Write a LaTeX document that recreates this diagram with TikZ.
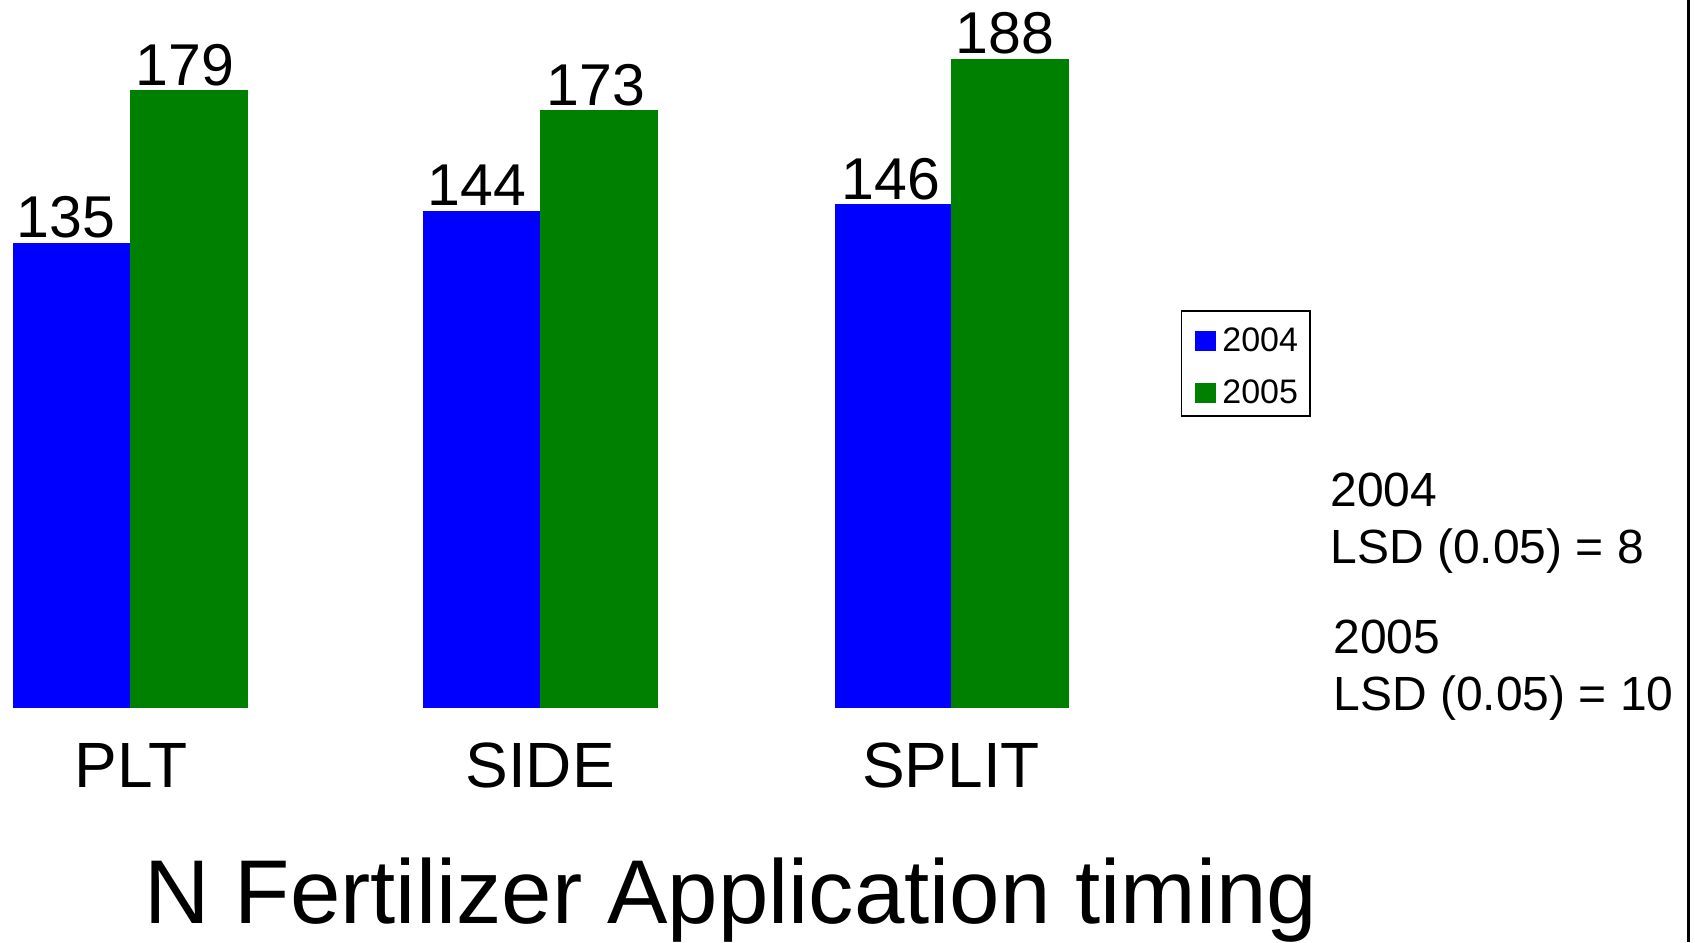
\documentclass[tikz,border=0pt]{standalone}
\usepackage{fontspec}
\setmainfont{Liberation Sans}
\definecolor{barblue}{RGB}{0,0,255}
\definecolor{bargreen}{RGB}{0,128,0}
\begin{document}
\begin{tikzpicture}[x=0.5pt,y=-0.5pt,
  valuelbl/.style={anchor=base,inner sep=0pt,font=\fontsize{29.5pt}{31pt}\selectfont},
  catlbl/.style={anchor=base,inner sep=0pt,font=\fontsize{32pt}{34pt}\selectfont},
  leglbl/.style={anchor=base west,inner sep=0pt,font=\fontsize{17pt}{19pt}\selectfont},
  lsdlbl/.style={anchor=base west,inner sep=0pt,font=\fontsize{24pt}{26pt}\selectfont},
  bluebar/.style={fill=barblue,draw=none},
  greenbar/.style={fill=bargreen,draw=none}]
\useasboundingbox (0,0) rectangle (1695,942);
\fill[white] (0,0) rectangle (1695,942);
% PLT
\fill[bluebar] (13,243) rectangle (130,708);
\fill[greenbar] (130,90) rectangle (248,708);
\node[valuelbl] (v1) at (66,237) {135};
\node[valuelbl] (v2) at (185,85) {179};
\node[catlbl] (c1) at (131,787) {PLT};
% SIDE
\fill[bluebar] (423,211) rectangle (540,708);
\fill[greenbar] (540,110) rectangle (658,708);
\node[valuelbl] (v3) at (477,205) {144};
\node[valuelbl] (v4) at (596,105) {173};
\node[catlbl] (c2) at (540,787) {SIDE};
% SPLIT
\fill[bluebar] (835,204) rectangle (951,708);
\fill[greenbar] (951,59) rectangle (1069,708);
\node[valuelbl] (v5) at (891,199) {146};
\node[valuelbl] (v6) at (1005,54) {188};
\node[catlbl] (c3) at (951,787) {SPLIT};
% title
\node[anchor=base west,inner sep=0pt,font=\fontsize{45.3pt}{47pt}\selectfont] (title) at (144,923) {N Fertilizer Application timing};
% legend
\draw[line width=0.7pt] (1181.5,311) rectangle (1310,416);
\fill[bluebar] (1195,331) rectangle (1216,351);
\fill[greenbar] (1195,383) rectangle (1216,403);
\node[leglbl] (l1) at (1222,351) {2004};
\node[leglbl] (l2) at (1222,403) {2005};
% LSD
\node[lsdlbl] (s1) at (1330,506) {2004};
\node[lsdlbl] (s2) at (1330,563) {LSD (0.05) = 8};
\node[lsdlbl] (s3) at (1333,653) {2005};
\node[lsdlbl] (s4) at (1333,710) {LSD (0.05) = 10};
% right edge line
\draw[line width=1.5pt] (1688.5,0) -- (1688.5,942);
\end{tikzpicture}
\end{document}
